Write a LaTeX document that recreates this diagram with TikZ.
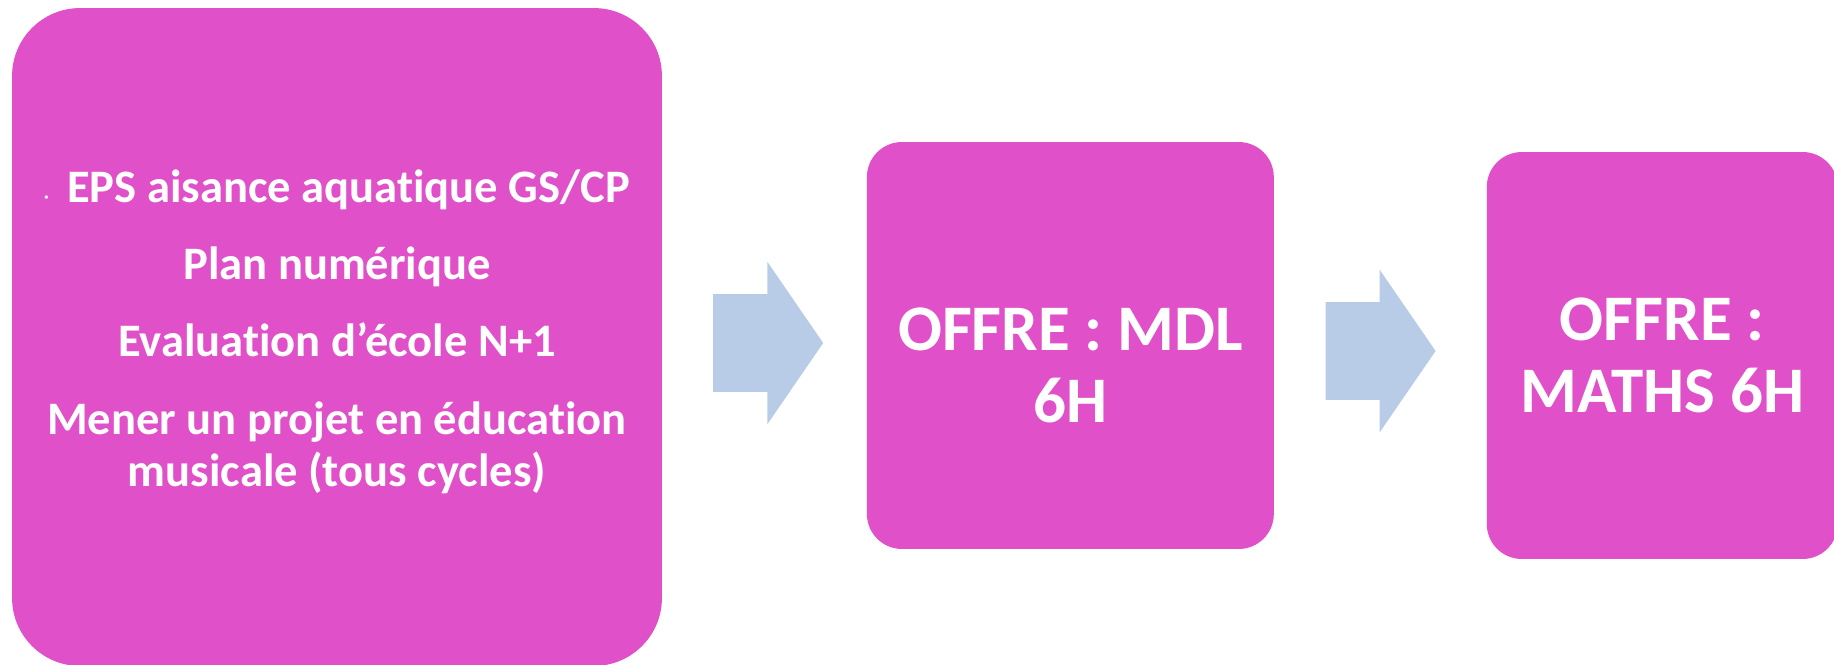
\documentclass[tikz,border=0pt]{standalone}
\usepackage{fontspec}
\setmainfont[Ligatures=NoCommon]{Carlito}
\usetikzlibrary{positioning,shapes.arrows}
\definecolor{boxpink}{RGB}{224,80,200}
\definecolor{arrowblue}{RGB}{184,204,232}
\tikzset{offer box/.style={rectangle,fill=boxpink,draw=none,text=white,align=center,inner sep=0pt,
    font=\bfseries\fontsize{37}{41}\selectfont,rounded corners=0.7cm},
  offer text/.style={text=white,align=center,inner sep=0pt,font=\bfseries\fontsize{37}{41}\selectfont},
  flow arrow/.style={single arrow,fill=arrowblue,draw=none,inner xsep=0pt,inner ysep=0.97cm,
    minimum height=2.2cm,single arrow head extend=0.65cm,single arrow tip angle=111}}

\begin{document}
\begin{tikzpicture}[x=0.02cm,y=0.02cm,on grid]
      \useasboundingbox (0,0) rectangle (1834,664);
      \node[offer box,minimum width=13cm,minimum height=13.16cm,rounded corners=1.36cm,
        font=\bfseries\fontsize{26.5}{30}\selectfont] (plan) at (337,327)
        {};
      \node[offer text,font=\bfseries\fontsize{26.5}{30}\selectfont] (plantext) [above = 0.1cm of plan]
        {{\fontsize{10}{10}\selectfont·}\, EPS aisance aquatique GS/CP\\[14pt]
         Plan numérique\\[14pt]
         Evaluation d’école N+1\\[14pt]
         Mener un projet en éducation\\
         musicale (tous cycles)};
      \node[flow arrow] (a1) [right = 8.29cm of plan, yshift=-0.12cm] {};
      \node[offer box,minimum width=8.14cm,minimum height=8.14cm] (mdl) [right = 14.67cm of plan, yshift=-0.17cm] {};
      \node[offer text] (mdltext) [below = 0.4cm of mdl] {OFFRE : MDL\\6H};
      \node[flow arrow] (a2) [right = 12.25cm of a1, yshift=-0.16cm] {};
      \node[offer box,minimum width=7.02cm,minimum height=8.14cm] (maths) [right = 11.84cm of mdl, yshift=-0.2cm]
        {OFFRE :\\MATHS 6H};
    \end{tikzpicture}
\end{document}
